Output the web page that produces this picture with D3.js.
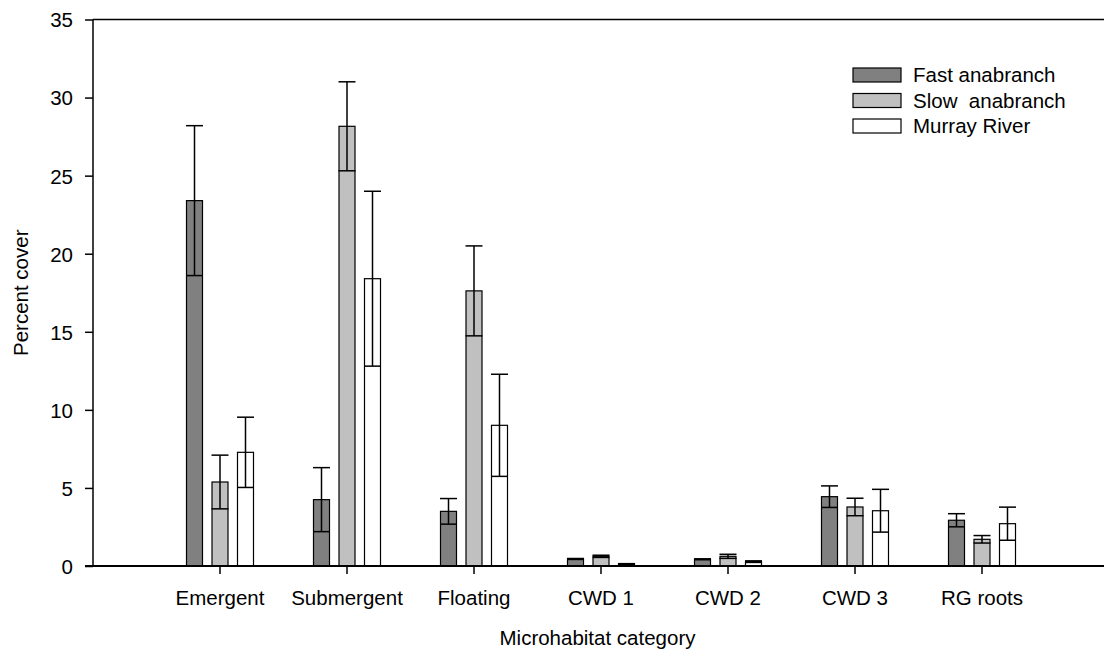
<!DOCTYPE html>
<html>
<head>
<meta charset="utf-8">
<script src="https://cdn.jsdelivr.net/npm/d3@7"></script>
<style>
  body { margin: 0; background: #fff; }
  svg text { font-family: Arial, "Liberation Sans", sans-serif; fill: #000; }
</style>
</head>
<body>
<svg id="chart" width="1104" height="652"></svg>
<script>
// data
const categories = ["Emergent", "Submergent", "Floating", "CWD 1", "CWD 2", "CWD 3", "RG roots"];
const seriesNames = ["Fast anabranch", "Slow  anabranch", "Murray River"];
const seriesColors = ["#808080", "#c0c0c0", "#ffffff"];

const fastMean = [23.4, 4.25, 3.5, 0.45, 0.43, 4.44, 2.93];
const fastErr  = [4.8, 2.05, 0.82, 0.03, 0.03, 0.69, 0.42];
const slowMean = [5.38, 28.16, 17.62, 0.62, 0.62, 3.78, 1.71];
const slowErr  = [1.72, 2.85, 2.88, 0.07, 0.13, 0.56, 0.24];
const riverMean = [7.28, 18.4, 9.01, 0.12, 0.28, 3.54, 2.71];
const riverErr  = [2.25, 5.6, 3.27, 0.03, 0.05, 1.37, 1.06];

const yTicks = [0, 5, 10, 15, 20, 25, 30, 35];

const means = [fastMean, slowMean, riverMean];
const errs = [fastErr, slowErr, riverErr];

const svg = d3.select("#chart");
const mLeft = 93, mTop = 19.5, mBottom = 566, mRight = 1104;
const step = 127;
const barW = 16;

const x = d3.scaleBand()
    .domain(categories)
    .range([mLeft + step / 2, mLeft + step / 2 + step * categories.length])
    .padding(0);

const xs = d3.scalePoint()
    .domain(seriesNames)
    .range([-25.5, 25.5]);

const y = d3.scaleLinear()
    .domain([0, 35])
    .range([mBottom, mTop]);

// flatten into rows
let rows = [];
categories.forEach((c, i) => {
    seriesNames.forEach((s, j) => {
        rows.push({ cat: c, series: s, idx: j, mean: means[j][i], err: errs[j][i] });
    });
});
const cx = d => x(d.cat) + x.bandwidth() / 2 + xs(d.series);

// bars
svg.append("g")
    .selectAll("rect")
    .data(rows)
    .enter()
    .append("rect")
    .attr("x", d => cx(d) - barW / 2)
    .attr("y", d => y(d.mean))
    .attr("width", barW)
    .attr("height", d => y(0) - y(d.mean))
    .style("fill", d => seriesColors[d.idx])
    .style("stroke", "#000")
    .style("stroke-width", 1.2);

// error bars
const eb = svg.append("g").style("stroke", "#000").style("stroke-width", 1.5);
eb.selectAll("line.v")
    .data(rows)
    .enter()
    .append("line")
    .attr("class", "v")
    .attr("x1", cx).attr("x2", cx)
    .attr("y1", d => y(d.mean + d.err))
    .attr("y2", d => y(Math.max(0, d.mean - d.err)));
eb.selectAll("line.capT")
    .data(rows)
    .enter()
    .append("line")
    .attr("class", "capT")
    .attr("x1", d => cx(d) - 8.5).attr("x2", d => cx(d) + 8.5)
    .attr("y1", d => y(d.mean + d.err)).attr("y2", d => y(d.mean + d.err));
eb.selectAll("line.capB")
    .data(rows)
    .enter()
    .append("line")
    .attr("class", "capB")
    .attr("x1", d => cx(d) - 8.5).attr("x2", d => cx(d) + 8.5)
    .attr("y1", d => y(Math.max(0, d.mean - d.err))).attr("y2", d => y(Math.max(0, d.mean - d.err)));

// frame lines
svg.append("line")
    .attr("x1", mLeft).attr("x2", mRight).attr("y1", mTop).attr("y2", mTop)
    .style("stroke", "#000").style("stroke-width", 1.5);
svg.append("line")
    .attr("x1", mLeft).attr("x2", mLeft).attr("y1", mTop).attr("y2", mBottom)
    .style("stroke", "#000").style("stroke-width", 1.5);

// y axis
const yAxis = svg.append("g")
    .attr("transform", `translate(${mLeft},0)`)
    .call(d3.axisLeft(y).tickValues(yTicks).tickSize(8).tickPadding(12));
yAxis.select(".domain").remove();
yAxis.selectAll(".tick line").style("stroke", "#000").style("stroke-width", 1.5);
yAxis.selectAll(".tick text").style("font-size", "20.5px").attr("dy", "0.36em");

// x axis
const xAxis = svg.append("g")
    .attr("transform", `translate(0,${mBottom})`)
    .call(d3.axisBottom(x).tickSize(8).tickPadding(16));
xAxis.select(".domain").remove();
xAxis.selectAll(".tick line").style("stroke", "#000").style("stroke-width", 1.5);
xAxis.selectAll(".tick text").style("font-size", "20.5px");
svg.append("line")
    .attr("x1", mLeft - 8).attr("x2", mRight).attr("y1", mBottom).attr("y2", mBottom)
    .style("stroke", "#000").style("stroke-width", 2.2);

// axis titles
svg.append("text")
    .attr("x", (mLeft + mRight) / 2 - 1)
    .attr("y", 645)
    .attr("text-anchor", "middle")
    .style("font-size", "20.5px")
    .text("Microhabitat category");
svg.append("text")
    .attr("transform", `translate(28,${(mTop + mBottom) / 2}) rotate(-90)`)
    .attr("text-anchor", "middle")
    .style("font-size", "20.5px")
    .text("Percent cover");

// legend
const legend = svg.append("g").attr("transform", "translate(853,68)");
const lg = legend.selectAll("g")
    .data(seriesNames)
    .enter()
    .append("g")
    .attr("transform", (d, i) => `translate(0,${i * 25.5})`);
lg.append("rect")
    .attr("width", 48).attr("height", 14)
    .style("fill", (d, i) => seriesColors[i])
    .style("stroke", "#000").style("stroke-width", 1.2);
lg.append("text")
    .attr("x", 60).attr("y", 14)
    .style("font-size", "20.5px")
    .style("white-space", "pre")
    .attr("xml:space", "preserve")
    .text(d => d);
</script>
</body>
</html>
